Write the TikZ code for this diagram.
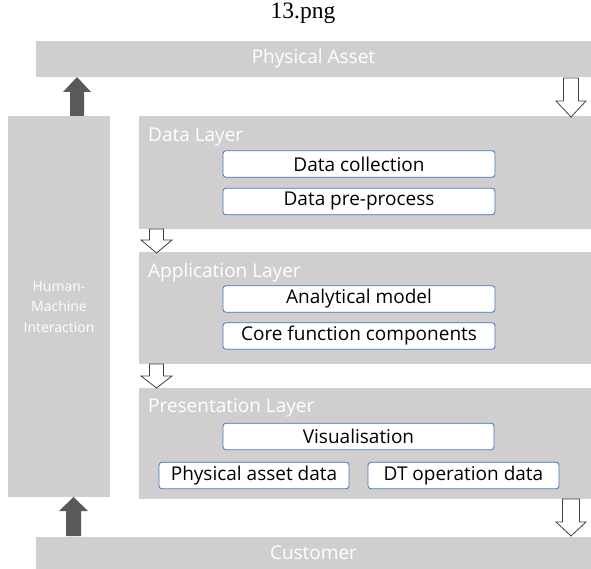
\documentclass[tikz,border=0pt]{standalone}
\usepackage{fontspec}
\setmainfont{Liberation Serif}
\setsansfont{Open Sans}
\definecolor{layergrey}{HTML}{D0CECE}
\definecolor{arrowgrey}{HTML}{595959}
\definecolor{boxblue}{HTML}{4472C4}
\def\blockarrow[#1](#2,#3,#4,#5)(#6,#7){\draw[#1] ({#2-#6},#3) -- ({#2+#6},#3) -- ({#2+#6},#4) -- ({#2+#7},#4) -- (#2,#5) -- ({#2-#7},#4) -- ({#2-#6},#4) -- cycle;}
\tikzset{
	layer/.style={fill=layergrey, draw=none, inner sep=0pt, text=white, font=\sffamily\fontsize{19}{22}\selectfont},
	layertitle/.style={text=white, font=\sffamily\fontsize{19}{22}\selectfont, anchor=base west, inner sep=0pt},
	func/.style={draw=boxblue, fill=white, rounded corners=3pt, line width=0.8pt, inner sep=0pt, minimum height=26.5, font=\sffamily\fontsize{19}{22}\selectfont},
	hollowarrow/.style={fill=white, draw=black!75, line width=0.8pt},
	darkarrow/.style={fill=arrowgrey, draw=none},
}

\begin{document}
\begin{tikzpicture}[x=1pt,y=-1pt]
		%%%%% START %%%%%
		\useasboundingbox (0,0) rectangle (591,569);
		\node[font=\fontsize{23.5}{27}\selectfont] (title) at (303,13) {13.png};
		
		\node[layer, minimum width=555, minimum height=36] (asset) at (313.5,59) {Physical Asset};
		\node[layer, minimum width=555, minimum height=32] (customer) at (313.5,553) {Customer};
		
		\node[layer, minimum width=102, minimum height=381] (hmi) at (59,306.5) {};
		\node[text=white, align=center, font=\sffamily\fontsize{14}{20.5}\selectfont] (hmitext) at (59,307) {Human-\\Machine\\Interaction};
		
		\node[layer, minimum width=452, minimum height=113] (datalayer) at (365,172.5) {};
		\node[layertitle] (datatitle) at (148,142) {Data Layer};
		\node[func, minimum width=272] (collect) at (359,164) {Data collection};
		\node[func, minimum width=272] (preproc) at (359,201.5) {Data pre-process};
		
		\node[layer, minimum width=452, minimum height=112] (applayer) at (365,308) {};
		\node[layertitle] (apptitle) at (148,277) {Application Layer};
		\node[func, minimum width=272] (model) at (359,299) {Analytical model};
		\node[func, minimum width=272] (core) at (359,336) {Core function components};
		
		\node[layer, minimum width=452, minimum height=111] (preslayer) at (365,443.5) {};
		\node[layertitle] (prestitle) at (148,412) {Presentation Layer};
		\node[func, minimum width=271] (visual) at (358.5,436.5) {Visualisation};
		\node[func, minimum width=190] (assetdata) at (254,475.5) {Physical asset data};
		\node[func, minimum width=191] (opdata) at (463.5,475.5) {DT operation data};
		
		\blockarrow[hollowarrow](571,78,101,117)(7.5,15);
		\blockarrow[hollowarrow](156.5,229,240,253)(7,15.5);
		\blockarrow[hollowarrow](156.5,364,376,388)(7,15.5);
		\blockarrow[hollowarrow](571,499,522,536)(8.5,15);
		
		\blockarrow[darkarrow](77,116,92,77)(7,14);
		\blockarrow[darkarrow](73.5,536,511,497)(7.5,14.5);
		%%%%% END %%%%%
\end{tikzpicture}
\end{document}
